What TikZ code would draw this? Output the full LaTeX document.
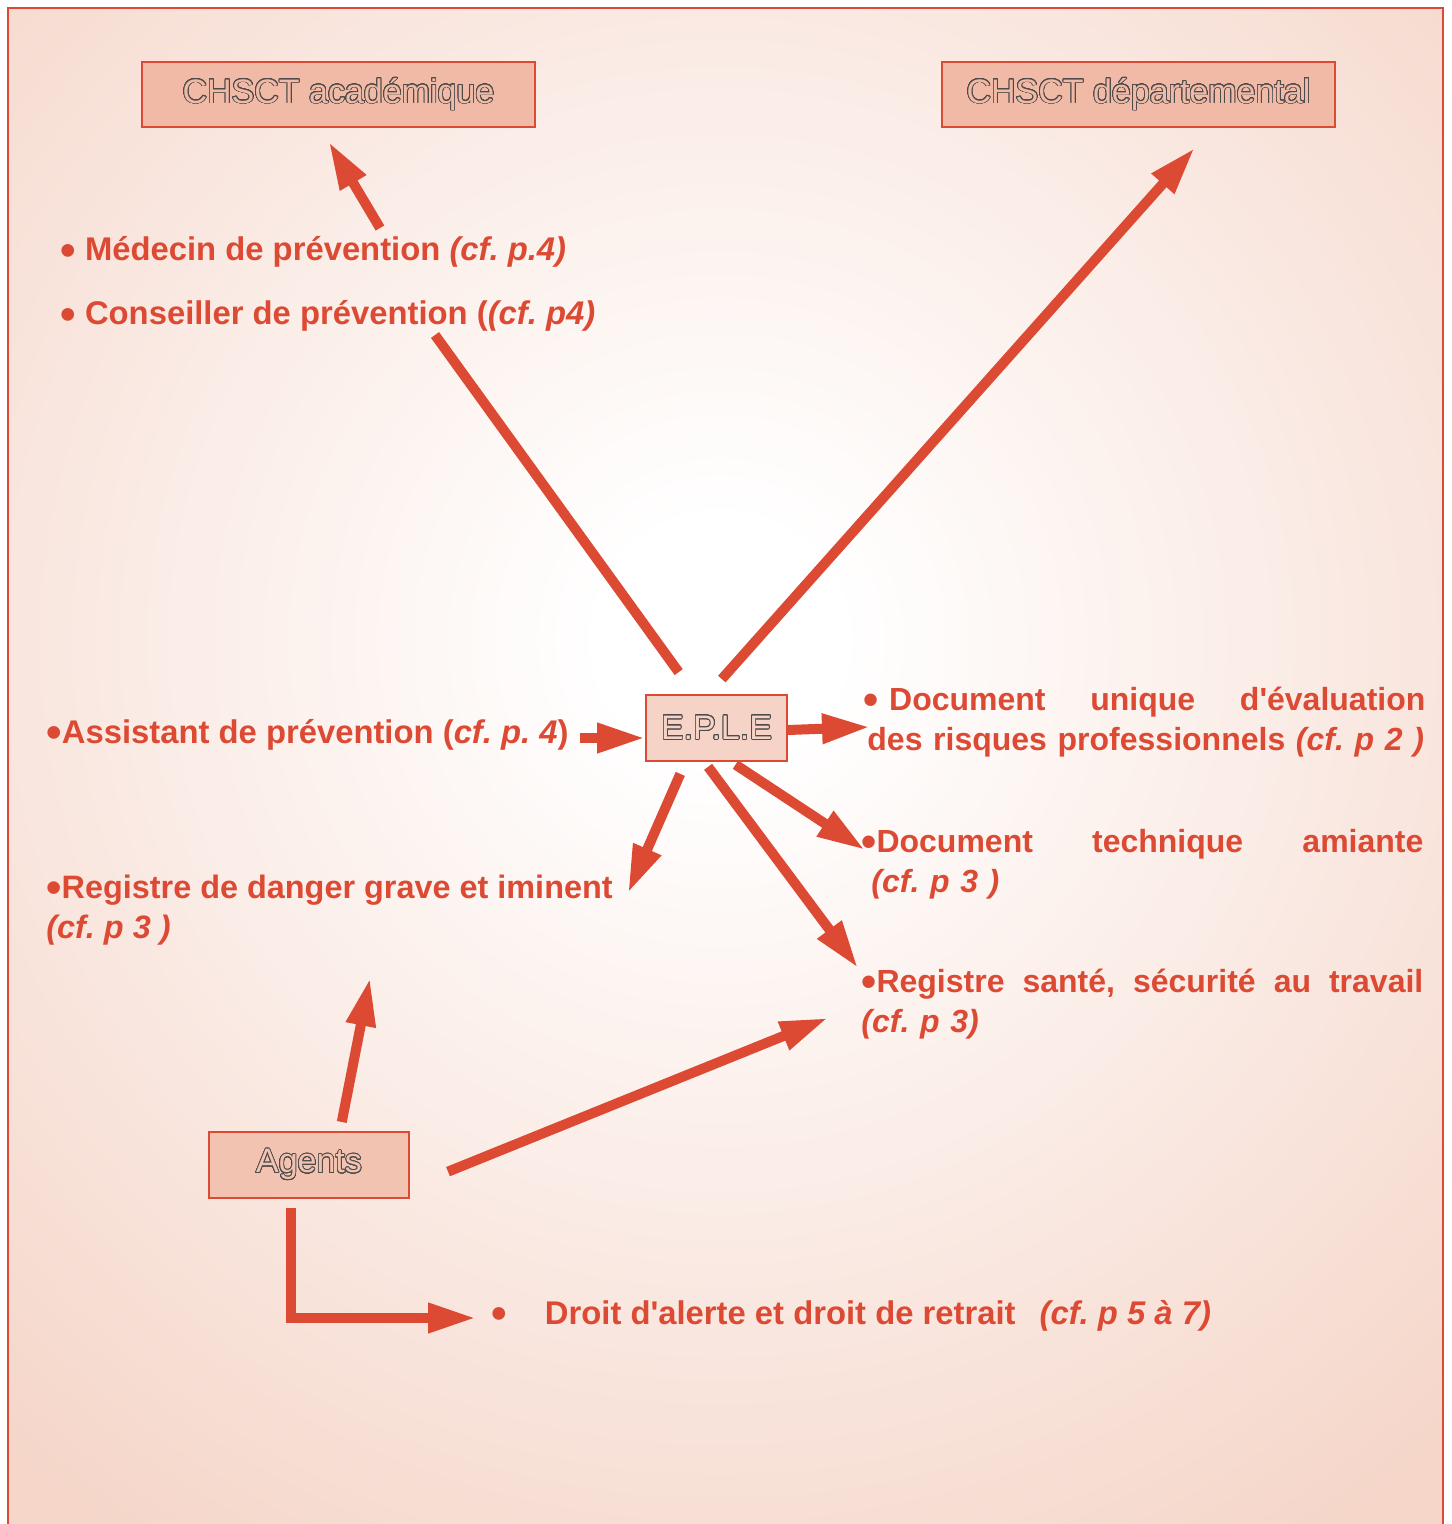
\documentclass[tikz,border=0pt]{standalone}
\usepackage{fontspec}
\setmainfont{Liberation Sans}[Ligatures=TeXOff]
\usepackage{contour}
\contourlength{0.4pt}
\contournumber{32}
\usetikzlibrary{arrows.meta}
\setlength\parindent{0pt}
\frenchspacing
\definecolor{chred}{RGB}{221,74,51}
\definecolor{bgpeach}{RGB}{245,214,201}
\definecolor{boxdark}{RGB}{240,186,166}
\definecolor{boxmid}{RGB}{242,195,177}
\definecolor{boxlight}{RGB}{245,212,199}
\definecolor{outlinegray}{RGB}{80,75,75}
\pgfdeclareradialshading{glow}{\pgfpoint{0bp}{0bp}}{color(0bp)=(white);color(3bp)=(white);color(27bp)=(bgpeach);color(50bp)=(bgpeach)}
\newcommand{\hollow}[2]{\textcolor{#1}{\contour{outlinegray}{#2}}}
\newcommand{\blt}{\raisebox{-2pt}{\scalebox{1.35}{•}}}
\tikzset{chsct/.style={draw=chred,line width=1pt,inner sep=0pt,
        font=\fontsize{17pt}{20pt}\selectfont},
    item/.style={text=chred,inner sep=0pt,anchor=base west,
        font=\fontsize{16.4pt}{20pt}\selectfont\bfseries},
    rightitem/.style={item,text width=281pt,
        font=\fontsize{16pt}{20pt}\selectfont\bfseries}}
\tikzset{bigline/.style={draw=chred,line width=5pt},
    bigarrow/.style={bigline,-{Triangle[length=24pt,width=14pt]}}}

\begin{document}
\begin{tikzpicture}[x=0.5pt,y=-0.5pt]
\useasboundingbox (0,0) rectangle (1451,1524);
\begin{scope}
  \clip (8,8) rectangle (1443,1540);
  \shade[shading=glow] (-280,-360) rectangle (1720,1640);
\end{scope}
\draw[chred,line width=1pt] (8,1540) -- (8,8) -- (1443,8) -- (1443,1540);
% boxes
\node[chsct,fill=boxdark,minimum width=196.5pt,minimum height=32.5pt] (acad) at (338.5,94.5) {\hollow{boxdark}{CHSCT académique}};
\node[chsct,fill=boxdark,minimum width=196.5pt,minimum height=32.5pt] (dep) at (1138.5,94.5) {\hollow{boxdark}{CHSCT départemental}};
\node[chsct,fill=boxlight,minimum width=70.5pt,minimum height=33pt] (eple) at (716.5,728) {\hollow{boxlight}{E.P.L.E}};
\node[chsct,fill=boxmid,minimum width=100pt,minimum height=33pt] (agents) at (309,1165) {\hollow{boxmid}{Agents}};
% texts
\node[item] (med) at (60,261) {\blt{} Médecin de prévention \textit{(cf. p.4)}};
\node[item] (cons) at (60,325) {\blt{} Conseiller de prévention (\textit{(cf. p4)}};
\node[item] (assist) at (46,743) {\blt Assistant de prévention (\textit{cf. p. 4})};
\node[item,align=left,font=\fontsize{16.2pt}{20pt}\selectfont\bfseries] (danger) at (46,938) {\blt Registre de danger grave et iminent\\\textit{(cf. p 3 )}};
\node[rightitem] (unique) at (863,710) {\blt{} Document\hfill unique\hfill d'évaluation\\ \mbox{\hspace*{2pt}des risques professionnels \textit{(cf. p 2 )}}};
\node[rightitem] (tech) at (861,852) {\blt Document\hfill technique\hfill amiante\\ \hspace*{5pt}\textit{(cf. p 3 )}};
\node[rightitem] (sante) at (861,992) {\blt Registre\hfill santé,\hfill sécurité\hfill au\hfill travail\\ \textit{(cf. p 3)}};
\node[item] (droit) at (491,1324) {\blt\hspace{19pt}Droit d'alerte et droit de retrait\hspace{12pt}\textit{(cf. p 5 à 7)}};
% connectors
\coordinate (medtop) at (380,228);
\coordinate (constop) at (435,335);
\coordinate (assend) at (580,738);
\coordinate (uniqueleft) at (870,727);
\coordinate (dangertop) at (628,893);
\coordinate (techleft) at (865,850);
\coordinate (santetop) at (858,968);
\coordinate (dangerbot) at (370,978);
\coordinate (santebot) at (828,1018);
\coordinate (droitleft) at (476,1318);
\draw[bigarrow,shorten >=8pt] (medtop) -- ([xshift=-9pt]acad.south);
\draw[bigline,shorten >=13.5pt] (constop) -- ([xshift=-11pt]eple.north);
\draw[bigarrow,shorten <=10pt,shorten >=13.4pt] ([xshift=-4pt]eple.north) -- ([xshift=37pt]dep.south);
\draw[bigarrow] (assend) -- (assend -| eple.west);
\draw[bigarrow] ([yshift=-1pt]eple.east) -- (uniqueleft);
\draw[bigarrow,shorten <=6.5pt] ([xshift=-15.5pt]eple.south) -- (dangertop);
\draw[bigarrow,shorten <=2.4pt] ([xshift=7.5pt]eple.south) -- (techleft);
\draw[bigarrow,shorten <=3pt] ([xshift=-6pt]eple.south) -- (santetop);
\draw[bigarrow,shorten <=4.6pt] ([xshift=15.5pt]agents.north) -- (dangerbot);
\draw[bigarrow,shorten <=20.5pt] ([yshift=-11pt]agents.east) -- (santebot);
\draw[bigarrow,shorten <=4.5pt] ([xshift=-9pt]agents.south) |- (droitleft);
\end{tikzpicture}
\end{document}
